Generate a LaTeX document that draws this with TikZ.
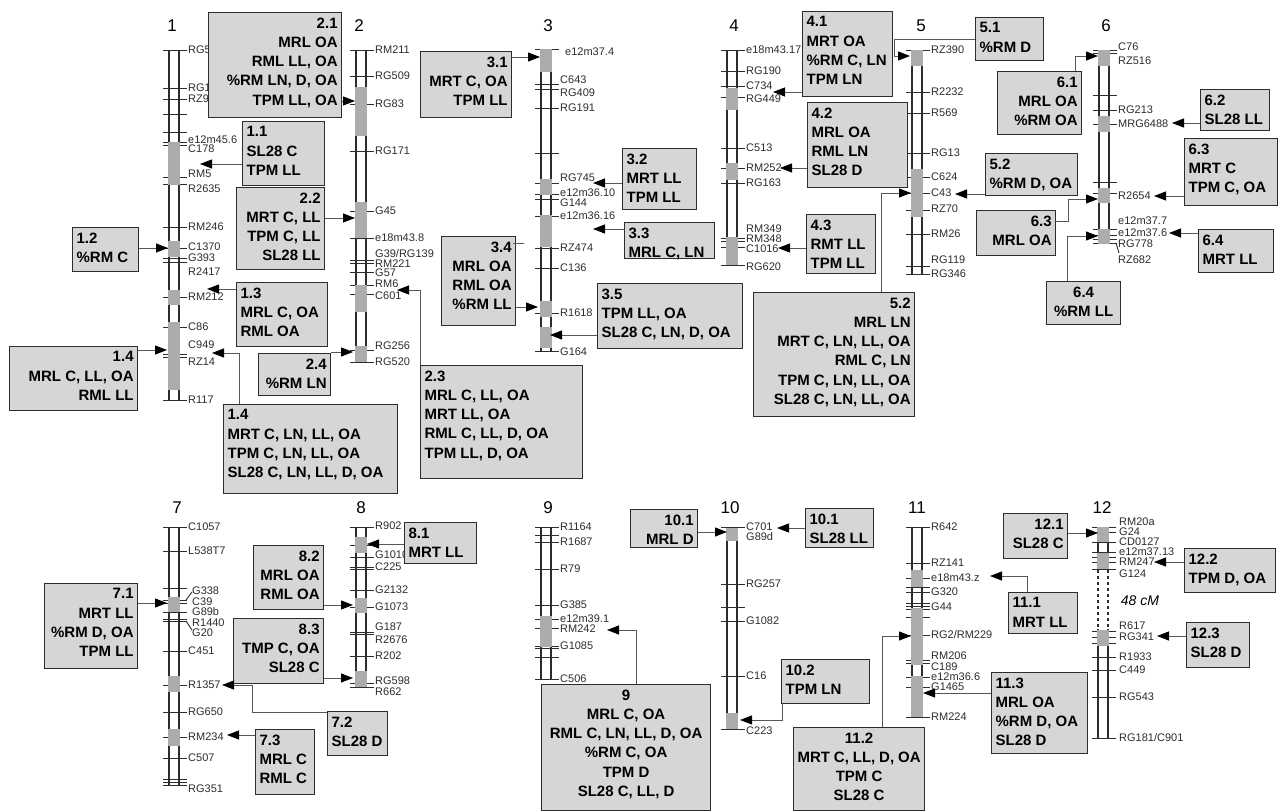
\documentclass[tikz,border=0pt]{standalone}
\usepackage{fontspec}
\setmainfont{Liberation Sans}
\usetikzlibrary{arrows.meta}
\definecolor{boxfill}{RGB}{214,214,214}
\definecolor{qtl}{RGB}{172,172,172}
\definecolor{ink}{RGB}{45,45,45}
\newcommand\bxfont{\fontsize{15}{19.3}\selectfont\bfseries}
\newcommand\mkfont{\fontsize{11}{12}\selectfont}
\newcount\mkn
\tikzset{
 qbox/.style={draw=ink, line width=1.2pt, fill=boxfill, inner xsep=4pt, inner ysep=5pt, text=black},
 conn/.style={draw=ink!80, line width=1pt, -{Triangle[length=12pt,width=9pt,color=black,fill=black]}},
 plain/.style={draw=ink!80, line width=1pt},
 tubeline/.style={draw=ink, line width=1.1pt},
 tickline/.style={draw=ink, line width=0.9pt},
 mklab/.style={font=\mkfont, anchor=west, inner sep=0pt, text=ink},
 cnum/.style={font=\fontsize{17}{18}\selectfont, inner sep=0pt},
}
\newcommand\tube[3]{\draw[tubeline] (#1,#2) -- (#1,#3) (#1+10,#2) -- (#1+10,#3);}
\newcommand\tks[2]{\foreach \yy in {#2} {\draw[tickline] (#1-6,\yy) -- (#1+18,\yy);}}
\newcommand\qls[2]{\foreach \ya/\yb in {#2} {\fill[qtl] (#1-0.6,\ya) rectangle (#1+10.6,\yb);}}
\newcommand\mks[2]{\foreach \yy/\tt in {#2} {\global\advance\mkn by 1 \node[mklab] (mk\the\mkn) at (#1+19,\yy) {\tt};}}
\newcommand\qb[7]{%
 \pgfmathsetmacro\qbw{#4-#2-8}%
 \pgfmathsetmacro\qbh{#5-#3-10}%
 \node[qbox, anchor=north west] (#1) at (#2,#3) {\parbox[c][\qbh pt][t]{\qbw pt}{\bxfont #6 #7}};}
\begin{document}
\begin{tikzpicture}[x=1pt,y=-1pt]
\useasboundingbox (0,0) rectangle (1278,811);
\fill[white] (0,0) rectangle (1278,811);
% chromosome numbers
\node[cnum] (n1) at (172,26) {1};
\node[cnum] (n2) at (359,26) {2};
\node[cnum] (n3) at (548,26) {3};
\node[cnum] (n4) at (734,26) {4};
\node[cnum] (n5) at (921,26) {5};
\node[cnum] (n6) at (1106,26) {6};
\node[cnum] (n7) at (177,508) {7};
\node[cnum] (n8) at (361,508) {8};
\node[cnum] (n9) at (548,508) {9};
\node[cnum] (n10) at (730,508) {10};
\node[cnum] (n11) at (917,508) {11};
\node[cnum] (n12) at (1102,508) {12};
% chr 1
\tube{169}{50}{400}
\tks{169}{50,88,99,114,132,142,145,177,184,227,248,258,262,297,327,354,357,400}
\qls{169}{142/185,241/257,290/305,322/390}
\mks{169}{50/RG5,88/RG1,99/RZ9,140/e12m45.6,149/C178,174/RM5,189/R2635,227/RM246,247/C1370,258/G393,272/R2417,297/RM212,327/C86,345/C949,362/RZ14,400/R117}
% chr 2
\tube{356}{50}{362}
\tks{356}{50,76,104,151,211,238,260,263,272,285,294,350,362}
\qls{356}{87/136,202/238,285/312,346/362}
\mks{356}{50/RM211,76/RG509,104/RG83,151/RG171,211/G45,238/e18m43.8,254/G39\slash RG139,264/RM221,273/G57,284/RM6,296/C601,346/RG256,362/RG520}
% chr 3
\tube{541}{49}{351}
\tks{541}{49,84,89,108,153,183,194,199,216,248,268,313,351}
\qls{541}{49/72,179/195,215/247,301/317,327/348}
\mks{541}{80/C643,93/RG409,108/RG191,178/RG745,193/e12m36.10,203/G144,216/e12m36.16,248/RZ474,268/C136,313/R1618,352/G164}
\node[mklab] (mk3top) at (565,52) {e12m37.4};
% chr 4
\tube{727}{50}{265}
\tks{727}{50,71,86,97,148,168,183,238,241,247,265}
\qls{727}{88/110,163/180,237/265}
\mks{727}{50/e18m43.17,71/RG190,86/C734,99/RG449,148/C513,168/RM252,183/RG163,229/RM349,239/RM348,249/C1016,267/RG620}
% chr 5
\tube{912}{50}{274}
\tks{912}{50,92,113,153,177,193,210,234,266,274}
\qls{912}{50/66,169/217}
\mks{912}{50/RZ390,92/R2232,113/R569,153/RG13,177/C624,193/C43,209/RZ70,234/RM26,260/RG119,274/RG346}
% chr 6
\tube{1099}{50}{243}
\tks{1099}{50,53,95,110,124,182,193,229,235,239,243}
\qls{1099}{50/66,116/132,188/203,229/244}
\mks{1099}{47/C76,61/RZ516,110/RG213,124/MRG6488,196/R2654,221/e12m37.7,233/e12m37.6,244/RG778,260/RZ682}
\draw[tickline] (1116,243) -- (1119,253);
% chr 7
\tube{169}{527}{785}
\tks{169}{527,551,588,600,603,612,619,621,651,685,712,737,758,779,782,785}
\qls{169}{597/612,676/692,729/746}
\mks{169}{527/C1057,551/L538T7,651/C451,685/R1357,712/RG650,737/RM234,758/C507,789/RG351}
\mks{173}{591/G338,602/C39,612/G89b,623/R1440,633/G20}
\draw[tickline] (186,600) -- (192,592) (186,621) -- (192,630);
% chr 8
\tube{356}{527}{687}
\tks{356}{527,545,557,567,569,590,607,632,634,656,683,687}
\qls{356}{537/553,598/613,671/687}
\mks{356}{526/R902,555/G1010,567/C225,590/G2132,607/G1073,627/G187,640/R2676,656/R202,681/RG598,692/R662}
% chr 9
\tube{541}{527}{679}
\tks{541}{527,535,542,569,605,619,628,646,648,657,679}
\qls{541}{616/647}
\mks{541}{527/R1164,542/R1687,569/R79,605/G385,619/e12m39.1,629/RM242,646/G1085,679/C506}
% chr 10
\tube{727}{527}{729}
\tks{727}{527,584,607,621,676,729}
\qls{727}{528/541,713/729}
\mks{727}{527/C701,537/G89d,584/RG257,621/G1082,676/C16,731/C223}
% chr 11
\tube{912}{527}{717}
\tks{912}{527,563,578,587,592,603,606,609,617,635,660,663,677,687,717}
\qls{912}{570/587,608/665,676/717}
\mks{912}{527/R642,563/RZ141,578/e18m43.z,592/G320,607/G44,635/RG2\slash RM229,656/RM206,667/C189,677/e12m36.6,687/G1465,717/RM224}
% chr 12
\draw[tubeline] (1098,527) -- (1098,570) (1108,527) -- (1108,570);
\draw[tubeline,dashed] (1098,570) -- (1098,629) (1108,570) -- (1108,629);
\draw[tubeline] (1098,629) -- (1098,738) (1108,629) -- (1108,738);
\tks{1098}{527,532,542,552,557,562,569,631,637,643,657,670,697,738}
\qls{1098}{527/542,553/569,630/646}
\mks{1100}{522/RM20a,532/G24,542/CD0127,552/e12m37.13,562/RM247,574/G124,626/R617,637/RG341,657/R1933,670/C449,697/RG543,738/RG181\slash C901}
\node[font=\fontsize{14}{16}\selectfont\itshape, inner sep=0pt] (cm48) at (1140,601) {48 cM};
% boxes
\qb{b11}{242}{121}{324}{185}{\raggedright}{1.1\\SL28 C\\TPM LL}
\qb{b12}{72}{227}{138}{271}{\raggedright}{1.2\\\%RM C}
\qb{b21}{208}{12}{341}{117}{\raggedleft}{2.1\\MRL OA\\RML LL, OA\\\%RM LN, D, OA\\TPM LL, OA}
\qb{b22}{236}{187}{324}{269}{\raggedleft}{2.2\\MRT C, LL\\TPM C, LL\\SL28 LL}
\qb{b13}{236}{282}{327}{346}{\raggedright}{1.3\\MRL C, OA\\RML OA}
\qb{b14a}{9}{346}{137}{410}{\raggedleft}{1.4\\MRL C, LL, OA\\RML LL}
\qb{b14b}{223}{404}{397}{493}{\raggedright}{1.4\\MRT C, LN, LL, OA\\TPM C, LN, LL, OA\\SL28 C, LN, LL, D, OA}
\qb{b24}{258}{353}{330}{395}{\raggedleft}{2.4\\\%RM LN}
\qb{b23}{420}{365}{582}{478}{\raggedright}{2.3\\MRL C, LL, OA\\MRT LL, OA\\RML C, LL, D, OA\\TPM LL, D, OA}
\qb{b31}{420}{51}{511}{117}{\raggedleft}{3.1\\MRT C, OA\\TPM LL}
\qb{b32}{622}{148}{696}{209}{\raggedright}{3.2\\MRT LL\\TPM LL}
\qb{b33}{624}{222}{714}{258}{\raggedright}{3.3\\MRL C, LN}
\qb{b34}{441}{236}{515}{325}{\raggedleft}{3.4\\MRL OA\\RML OA\\\%RM LL}
\qb{b35}{597}{283}{742}{348}{\raggedright}{3.5\\TPM LL, OA\\SL28 C, LN, D, OA}
\qb{b41}{802}{11}{892}{96}{\raggedright}{4.1\\MRT OA\\\%RM C, LN\\TPM LN}
\qb{b42}{807}{102}{907}{187}{\raggedright}{4.2\\MRL OA\\RML LN\\SL28 D}
\qb{b43}{806}{214}{875}{273}{\raggedright}{4.3\\RMT LL\\TPM LL}
\qb{b51}{975}{17}{1043}{60}{\raggedright}{5.1\\\%RM D}
\qb{b52s}{985}{153}{1077}{195}{\raggedright}{5.2\\\%RM D, OA}
\qb{b52b}{753}{292}{914}{416}{\raggedleft}{5.2\\MRL LN\\MRT C, LN, LL, OA\\RML C, LN\\TPM C, LN, LL, OA\\SL28 C, LN, LL, OA}
\qb{b61}{997}{71}{1081}{134}{\raggedleft}{6.1\\MRL OA\\\%RM OA}
\qb{b62}{1200}{89}{1269}{130}{\raggedright}{6.2\\SL28 LL}
\qb{b63r}{1184}{138}{1277}{205}{\raggedright}{6.3\\MRT C\\TPM C, OA}
\qb{b63l}{976}{210}{1055}{255}{\raggedleft}{6.3\\MRL OA}
\qb{b64r}{1198}{229}{1273}{272}{\raggedright}{6.4\\MRT LL}
\qb{b64b}{1046}{281}{1120}{324}{\centering}{6.4\\\%RM LL}
\qb{b71}{44}{583}{137}{668}{\raggedleft}{7.1\\MRT LL\\\%RM D, OA\\TPM LL}
\qb{b72}{327}{711}{387}{755}{\raggedright}{7.2\\SL28 D}
\qb{b73}{255}{729}{314}{794}{\raggedright}{7.3\\MRL C\\RML C}
\qb{b81}{404}{522}{476}{563}{\raggedright}{8.1\\MRT LL}
\qb{b82}{253}{545}{323}{609}{\raggedleft}{8.2\\MRL OA\\RML OA}
\qb{b83}{233}{618}{323}{683}{\raggedleft}{8.3\\TMP C, OA\\SL28 C}
\qb{b9}{541}{684}{710}{810}{\centering}{9\\MRL C, OA\\RML C, LN, LL, D, OA\\\%RM C, OA\\TPM D\\SL28 C, LL, D}
\qb{b101l}{630}{509}{697}{547}{\raggedleft}{10.1\\MRL D}
\qb{b101r}{805}{508}{873}{547}{\raggedright}{10.1\\SL28 LL}
\qb{b102}{781}{659}{869}{703}{\raggedright}{10.2\\TPM LN}
\qb{b111}{1008}{592}{1077}{633}{\raggedright}{11.1\\MRT LL}
\qb{b112}{793}{727}{924}{810}{\centering}{11.2\\MRT C, LL, D, OA\\TPM C\\SL28 C}
\qb{b113}{991}{672}{1087}{753}{\raggedright}{11.3\\MRL OA\\\%RM D, OA\\SL28 D}
\qb{b121}{1003}{513}{1067}{558}{\raggedleft}{12.1\\SL28 C}
\qb{b122}{1184}{548}{1275}{592}{\raggedright}{12.2\\TPM D, OA}
\qb{b123}{1186}{622}{1249}{667}{\raggedright}{12.3\\SL28 D}
% arrow targets
\coordinate (t11) at (200,164);
\coordinate (t12) at (168,248);
\coordinate (t21) at (355,101);
\coordinate (t22) at (355,218);
\coordinate (t13) at (207,289);
\coordinate (t14a) at (167,350);
\coordinate (t14b) at (212,353);
\coordinate (t24) at (353,352);
\coordinate (t23) at (397,290);
\coordinate (t31) at (540,57);
\coordinate (t32) at (593,183);
\coordinate (t33) at (593,229);
\coordinate (t34) at (538,307);
\coordinate (t35) at (550,335);
\coordinate (t41) at (773,92);
\coordinate (t42) at (780,168);
\coordinate (t43) at (778,248);
\coordinate (t51) at (910,56);
\coordinate (k51) at (894,39);
\coordinate (t52b) at (911,193);
\coordinate (t52s) at (955,194);
\coordinate (t61) at (1098,56);
\coordinate (t62) at (1172,123);
\coordinate (t63r) at (1154,196);
\coordinate (t63l) at (1098,199);
\coordinate (k63) at (1068,221);
\coordinate (t64r) at (1169,233);
\coordinate (t64b) at (1098,236);
\coordinate (t71) at (167,603);
\coordinate (t83) at (353,678);
\coordinate (t72) at (222,685);
\coordinate (k72) at (252,712);
\coordinate (t73) at (227,735);
\coordinate (t82) at (353,605);
\coordinate (t81) at (367,544);
\coordinate (t9) at (607,630);
\coordinate (t101l) at (727,532);
\coordinate (t101r) at (777,528);
\coordinate (t102) at (740,720);
\coordinate (t111) at (990,576);
\coordinate (t112) at (911,636);
\coordinate (t113) at (923,693);
\coordinate (t121) at (1098,533);
\coordinate (t122) at (1154,562);
\coordinate (t123) at (1157,636);
% connectors
\draw[conn] (b11.west |- t11) -- (t11);
\draw[conn] (b12.east |- t12) -- (t12);
\draw[conn] (b21.east |- t21) -- (t21);
\draw[conn] (b22.east |- t22) -- (t22);
\draw[conn] (b13.west |- t13) -- (t13);
\draw[conn] (b14a.east |- t14a) -- (t14a);
\draw[conn] ([shift={(16,0)}]b14b.north west) |- (t14b);
\draw[conn] (b24.east |- t24) -- (t24);
\draw[conn] (b23.north west) |- (t23);
\draw[conn] (b31.east |- t31) -- (t31);
\draw[conn] (b32.west |- t32) -- (t32);
\draw[conn] (b33.west |- t33) -- (t33);
\draw[conn] (b34.east |- t34) -- (t34);
\draw[plain] ([shift={(-3,7)}]b34.north east) -- ++(11,0);
\draw[conn] (b35.west |- t35) -- (t35);
\draw[conn] (b41.west |- t41) -- (t41);
\draw[conn] (b42.west |- t42) -- (t42);
\draw[conn] (b43.west |- t43) -- (t43);
\draw[conn] (b51.west |- k51) -- (k51) |- (t51);
\draw[conn] ([shift={(128,0)}]b52b.north west) |- (t52b);
\draw[conn] (b52s.west |- t52s) -- (t52s);
\draw[conn] ([shift={(78,0)}]b61.north west) |- (t61);
\draw[conn] (b62.west |- t62) -- (t62);
\draw[conn] (b63r.west |- t63r) -- (t63r);
\draw[conn] (b63l.east |- k63) -- (k63) |- (t63l);
\draw[conn] (b64r.west |- t64r) -- (t64r);
\draw[conn] ([shift={(21,0)}]b64b.north west) |- (t64b);
\draw[conn] (b71.east |- t71) -- (t71);
\draw[conn] (b83.east |- t83) -- (t83);
\draw[conn] (b72.west |- k72) -- (k72) |- (t72);
\draw[conn] (b73.west |- t73) -- (t73);
\draw[conn] (b82.east |- t82) -- (t82);
\draw[conn] (b81.west |- t81) -- (t81);
\draw[conn] ([shift={(95,0)}]b9.north west) |- (t9);
\draw[conn] (b101l.east |- t101l) -- (t101l);
\draw[conn] (b101r.west |- t101r) -- (t101r);
\draw[conn] ([shift={(1,0)}]b102.south west) |- (t102);
\draw[conn] ([shift={(19,0)}]b111.north west) |- (t111);
\draw[conn] ([shift={(89,0)}]b112.north west) |- (t112);
\draw[conn] (b113.west |- t113) -- (t113);
\draw[conn] (b121.east |- t121) -- (t121);
\draw[conn] (b122.west |- t122) -- (t122);
\draw[conn] (b123.west |- t123) -- (t123);
\end{tikzpicture}
\end{document}
